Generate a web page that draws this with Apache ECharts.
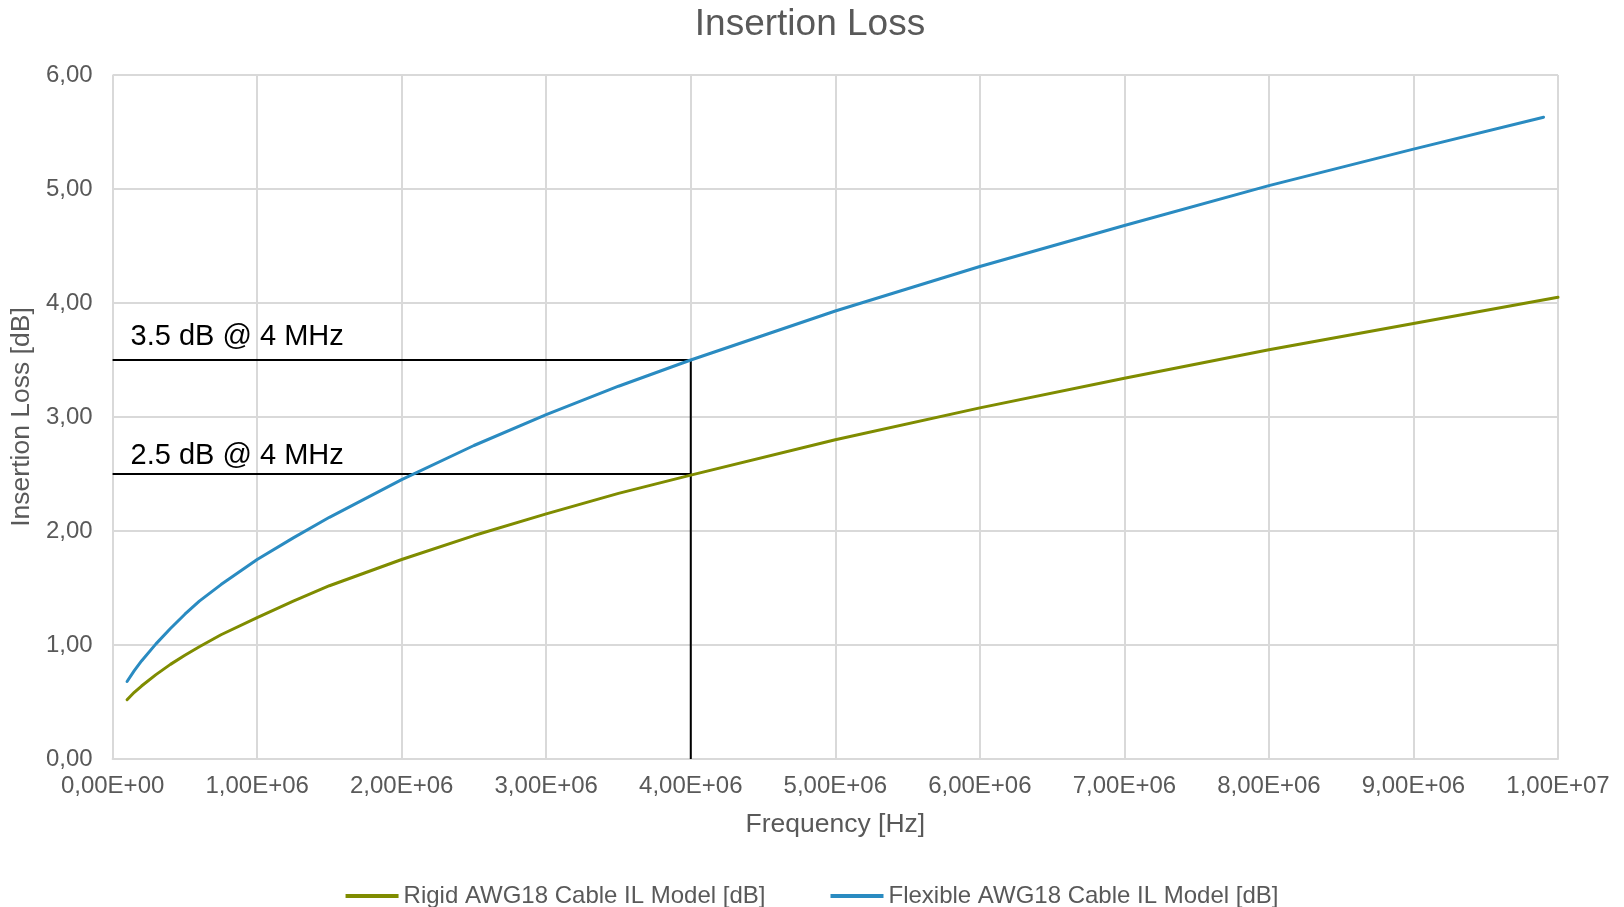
<!DOCTYPE html>
<html>
<head>
<meta charset="utf-8">
<script src="https://cdn.jsdelivr.net/npm/echarts@6/dist/echarts.min.js"></script>
<style>
html,body{margin:0;padding:0;background:#fff;}
#c{width:1624px;height:907px;}
</style>
</head>
<body>
<div id="c"></div>
<script>
// Frequencies in Hz
const rigidFreq = [1e5, 1.5e5, 2e5, 3e5, 4e5, 5e5, 6e5, 7.5e5, 1e6, 1.25e6, 1.5e6, 2e6, 2.5e6, 3e6, 3.5e6, 4e6, 5e6, 6e6, 7e6, 8e6, 9e6, 1e7];
const rigidIL   = [0.52, 0.585, 0.64, 0.74, 0.83, 0.91, 0.985, 1.09, 1.24, 1.385, 1.52, 1.75, 1.96, 2.15, 2.33, 2.49, 2.80, 3.08, 3.34, 3.59, 3.82, 4.05];
const flexFreq  = [1e5, 1.5e5, 2e5, 3e5, 4e5, 5e5, 6e5, 7.5e5, 1e6, 1.25e6, 1.5e6, 2e6, 2.5e6, 3e6, 3.5e6, 4e6, 5e6, 6e6, 7e6, 8e6, 9e6, 9.9e6];
const flexIL    = [0.68, 0.775, 0.86, 1.01, 1.145, 1.27, 1.385, 1.53, 1.75, 1.94, 2.12, 2.45, 2.75, 3.02, 3.27, 3.50, 3.93, 4.32, 4.68, 5.03, 5.35, 5.63];

const xTickLabels = ['0,00E+00','1,00E+06','2,00E+06','3,00E+06','4,00E+06','5,00E+06','6,00E+06','7,00E+06','8,00E+06','9,00E+06','1,00E+07'];
const yTickLabels = ['0,00','1,00','2,00','3,00','4,00','5,00','6,00'];

const seriesNames = ['Rigid AWG18 Cable IL Model [dB]', 'Flexible AWG18 Cable IL Model [dB]'];
const markFreq = 4e6;
const markRigid = 2.5;
const markFlex = 3.5;
const markLabels = ['3.5 dB @ 4 MHz', '2.5 dB @ 4 MHz'];

const FONT = "'Liberation Sans', Arial, sans-serif";
const GREY = '#595959';

const chart = echarts.init(document.getElementById('c'));

const annLabel = (txt, dy) => ({
  show: true,
  formatter: txt,
  position: [18, dy],
  align: 'left',
  verticalAlign: 'middle',
  fontFamily: FONT,
  fontSize: 29,
  color: '#000'
});

chart.setOption({
  animation: false,
  backgroundColor: '#fff',
  textStyle: { fontFamily: FONT },
  title: {
    text: 'Insertion Loss',
    left: 805,
    textAlign: 'center',
    top: 1,
    textStyle: { fontFamily: FONT, fontSize: 37, fontWeight: 'normal', color: GREY }
  },
  grid: { left: 112, right: 66, top: 75, bottom: 148, containLabel: false },
  xAxis: {
    type: 'value',
    min: 0, max: 1e7, interval: 1e6,
    name: 'Frequency [Hz]',
    nameLocation: 'middle',
    nameGap: 52,
    nameTextStyle: { fontFamily: FONT, fontSize: 26.5, color: GREY },
    axisLine: { show: true, lineStyle: { color: '#d9d9d9', width: 2 } },
    axisTick: { show: false },
    axisLabel: {
      fontFamily: FONT, fontSize: 24, color: GREY, margin: 15,
      formatter: (v) => xTickLabels[Math.round(v / 1e6)]
    },
    splitLine: { show: true, lineStyle: { color: '#d9d9d9', width: 2 } }
  },
  yAxis: {
    type: 'value',
    min: 0, max: 6, interval: 1,
    name: 'Insertion Loss [dB]',
    nameLocation: 'middle',
    nameGap: 76,
    nameTextStyle: { fontFamily: FONT, fontSize: 26.5, color: GREY },
    axisLine: { show: false },
    axisTick: { show: false },
    axisLabel: {
      fontFamily: FONT, fontSize: 24, color: GREY, margin: 20,
      formatter: (v) => yTickLabels[Math.round(v)]
    },
    splitLine: { show: true, lineStyle: { color: '#d9d9d9', width: 2 } }
  },
  legend: {
    data: seriesNames,
    left: 'center',
    top: 879,
    icon: 'rect',
    itemWidth: 53,
    itemHeight: 4,
    itemGap: 65,
    textStyle: { fontFamily: FONT, fontSize: 24, color: GREY }
  },
  series: [
    {
      name: seriesNames[0],
      type: 'line',
      smooth: false,
      showSymbol: false,
      data: rigidFreq.map((f, i) => [f, rigidIL[i]]),
      lineStyle: { color: '#7f8c00', width: 3, join: 'round', cap: 'round' },
      itemStyle: { color: '#7f8c00' },
      z: 3
    },
    {
      name: seriesNames[1],
      type: 'line',
      smooth: false,
      showSymbol: false,
      data: flexFreq.map((f, i) => [f, flexIL[i]]),
      lineStyle: { color: '#2a8bc1', width: 3, join: 'round', cap: 'round' },
      itemStyle: { color: '#2a8bc1' },
      z: 3
    },
    {
      name: 'ann1',
      type: 'line',
      symbol: 'circle',
      symbolSize: 0,
      showSymbol: true,
      silent: true,
      data: [
        { value: [0, markFlex], label: annLabel(markLabels[0], -23) },
        [markFreq, markFlex],
        [markFreq, 0]
      ],
      lineStyle: { color: '#000', width: 2 },
      itemStyle: { color: '#000' },
      z: 2
    },
    {
      name: 'ann2',
      type: 'line',
      symbol: 'circle',
      symbolSize: 0,
      showSymbol: true,
      silent: true,
      data: [
        { value: [0, markRigid], label: annLabel(markLabels[1], -18) },
        [markFreq, markRigid]
      ],
      lineStyle: { color: '#000', width: 2 },
      itemStyle: { color: '#000' },
      z: 2
    }
  ]
});
</script>
</body>
</html>
